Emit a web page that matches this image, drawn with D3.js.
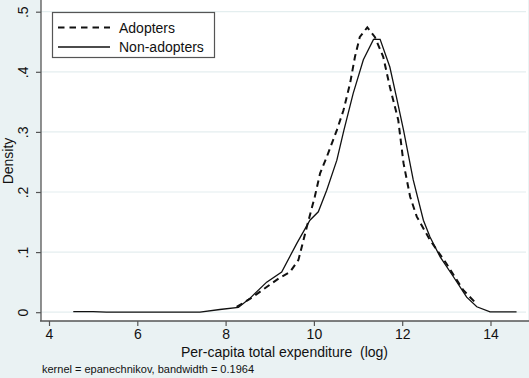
<!DOCTYPE html>
<html>
<head>
<meta charset="utf-8">
<script src="https://d3js.org/d3.v7.min.js"></script>
<style>
  body { margin: 0; background: #eaf2f3; }
  svg { display: block; font-family: "Liberation Sans", Arial, sans-serif; }
</style>
</head>
<body>
<svg></svg>
<script>
// =============================================== DATA =============================================
const xTicks = [4, 6, 8, 10, 12, 14];
const yTicks = [0, 0.1, 0.2, 0.3, 0.4, 0.5];
const yTickLabels = ["0", ".1", ".2", ".3", ".4", ".5"];

const seriesNames = ["Adopters", "Non-adopters"];

// adopters (dashed)
const adoptX = [8.25, 8.55, 8.93, 9.2, 9.46, 9.65, 9.84, 10.02, 10.14, 10.29, 10.52, 10.67, 10.82, 10.93,
    11.04, 11.21, 11.38, 11.57, 11.72, 11.91, 12.03, 12.18, 12.33, 12.63, 13.0, 13.38, 13.67];
const adoptY = [0.009, 0.022, 0.042, 0.056, 0.067, 0.087, 0.142, 0.192, 0.231, 0.258, 0.303, 0.336, 0.381, 0.425,
    0.458, 0.474, 0.458, 0.425, 0.375, 0.32, 0.248, 0.192, 0.159, 0.12, 0.081, 0.037, 0.015];

// non-adopters (solid)
const nonX = [4.55, 5.0, 5.3, 6.0, 7.0, 7.42, 7.87, 8.29, 8.55, 8.93, 9.27, 9.61, 9.91, 10.1, 10.29, 10.52,
    10.68, 10.89, 11.12, 11.35, 11.5, 11.72, 11.87, 12.03, 12.25, 12.48, 12.63, 12.86, 13.16, 13.46, 13.69, 13.99, 14.59];
const nonY = [0.001, 0.001, 0.0, 0.0, 0.0, 0.0, 0.0045, 0.008, 0.023, 0.05, 0.067, 0.114, 0.153, 0.167, 0.203, 0.253,
    0.303, 0.364, 0.42, 0.454, 0.454, 0.408, 0.358, 0.303, 0.22, 0.153, 0.125, 0.092, 0.059, 0.025, 0.009, 0.0005, 0.0005];

// ============================================ CANVAS SETTINGS ====================================================
var width = 529;
var height = 378;
var plotLeft = 41, plotRight = 528, plotTop = 0, plotBottom = 321;

const svg = d3.select("svg")
    .attr("width", width)
    .attr("height", height);

svg.append("rect")
    .attr("width", width).attr("height", height)
    .attr("fill", "#eaf2f3");

svg.append("rect")
    .attr("x", plotLeft).attr("y", plotTop)
    .attr("width", plotRight - plotLeft).attr("height", plotBottom - plotTop)
    .attr("fill", "white");

const xs = d3.scaleLinear().domain([4, 14]).range([49, 490.5]);
const ys = d3.scaleLinear().domain([0, 0.5]).range([312.2, 11.7]);

// ======================== GRID ========================
svg.append("g")
    .selectAll("line")
    .data(yTicks)
    .enter()
    .append("line")
    .attr("x1", plotLeft).attr("x2", plotRight - 2)
    .attr("y1", d => ys(d)).attr("y2", d => ys(d))
    .attr("stroke", "#e4eeef")
    .attr("stroke-width", 1.2);

// ======================== LINES ========================
const line = d3.line()
    .x(d => xs(d[0]))
    .y(d => ys(d[1]));

const adopters = adoptX.map((x, i) => [x, adoptY[i]]);
const nonAdopters = nonX.map((x, i) => [x, nonY[i]]);

svg.append("path")
    .datum(nonAdopters)
    .attr("fill", "none")
    .attr("stroke", "#111")
    .attr("stroke-width", 1.3)
    .attr("d", line);

svg.append("path")
    .datum(adopters)
    .attr("fill", "none")
    .attr("stroke", "#111")
    .attr("stroke-width", 2)
    .attr("stroke-dasharray", "6.5,4.5")
    .attr("d", line);

// ========================================== AXES SETTING ======================================================
const xAxis = svg.append("g")
    .attr("transform", "translate(0," + plotBottom + ")")
    .call(d3.axisBottom(xs).tickValues(xTicks).tickSize(5).tickPadding(3).tickFormat(d3.format("d")));
xAxis.select(".domain").attr("d", "M" + (plotLeft - 1) + ",0H" + width);

const yAxis = svg.append("g")
    .attr("transform", "translate(" + plotLeft + ",0)")
    .call(d3.axisLeft(ys).tickValues(yTicks).tickSize(5).tickPadding(4).tickFormat((d, i) => yTickLabels[i]));
yAxis.select(".domain").attr("d", "M0,0V" + plotBottom);

svg.selectAll(".domain").attr("stroke", "#555").attr("stroke-width", 1.3);
svg.selectAll(".tick line").attr("stroke", "#555").attr("stroke-width", 1.2);
svg.selectAll(".tick text")
    .attr("fill", "#111")
    .style("font-size", "14px")
    .style("font-family", "'Liberation Sans', Arial, sans-serif");

yAxis.selectAll(".tick text")
    .attr("text-anchor", "middle")
    .attr("transform", function () {
        return "translate(" + (-4) + ",0) rotate(-90)";
    })
    .attr("x", 0)
    .attr("y", -9)
    .attr("dy", "0");

// ========================================== AXES LABELING ======================================================
svg.append("text")
    .attr("text-anchor", "middle")
    .attr("x", (plotLeft + plotRight) / 2)
    .attr("y", 357)
    .attr("fill", "#111")
    .style("font-size", "14px")
    .text("Per-capita total expenditure\u00a0\u00a0(log)");

svg.append("text")
    .attr("text-anchor", "middle")
    .attr("transform", "translate(13,161) rotate(-90)")
    .attr("fill", "#111")
    .style("font-size", "14px")
    .text("Density");

svg.append("text")
    .attr("x", 42)
    .attr("y", 373)
    .attr("fill", "#111")
    .style("font-size", "11px")
    .text("kernel = epanechnikov, bandwidth = 0.1964");

// ============================== LEGENDS SETTINGS ==================================
svg.append("rect")
    .attr("x", 52.5).attr("y", 12.5)
    .attr("width", 162).attr("height", 45)
    .attr("fill", "white")
    .attr("stroke", "#555")
    .attr("stroke-width", 1.2);

const legend = svg.selectAll(".legend")
    .data(seriesNames)
    .enter().append("g")
    .attr("class", "legend")
    .attr("transform", (d, i) => "translate(0," + (27.5 + 19.5 * i) + ")");

legend.append("line")
    .attr("x1", 58).attr("x2", 110)
    .attr("y1", 0).attr("y2", 0)
    .attr("stroke", "#111")
    .attr("stroke-width", (d, i) => i === 0 ? 2 : 1.3)
    .attr("stroke-dasharray", (d, i) => i === 0 ? "6.5,5" : null);

legend.append("text")
    .attr("x", 119)
    .attr("y", 5)
    .attr("fill", "#111")
    .style("font-size", "14px")
    .text(d => d);
</script>
</body>
</html>
